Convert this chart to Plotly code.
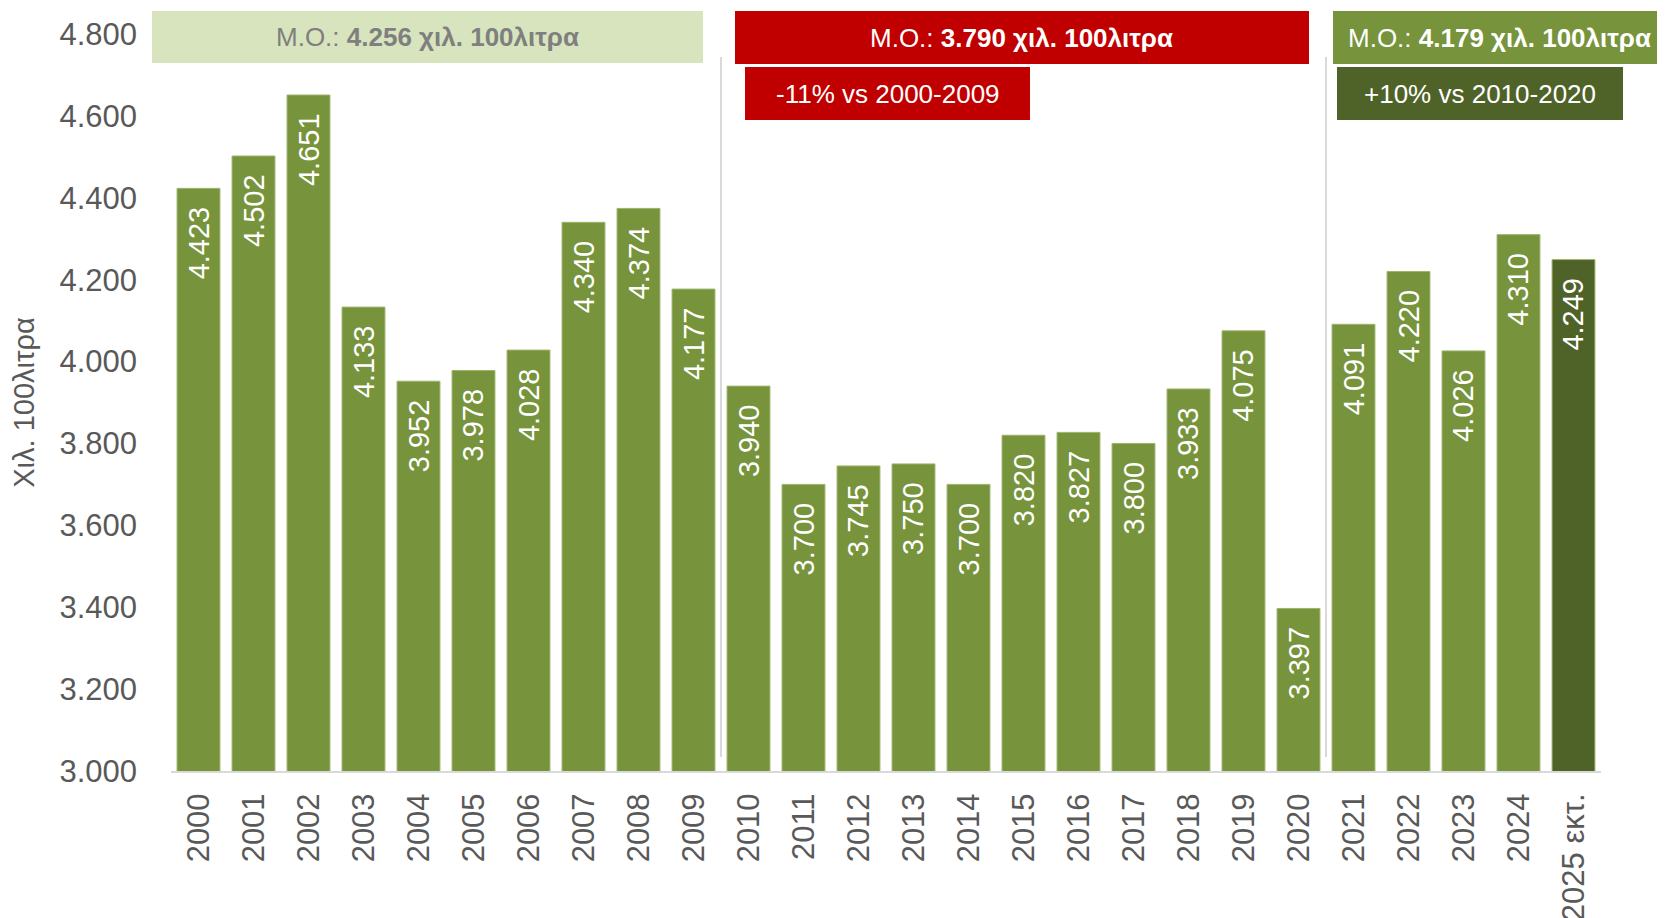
import plotly.graph_objects as go

categories = ["2000", "2001", "2002", "2003", "2004", "2005", "2006", "2007", "2008", "2009",
              "2010", "2011", "2012", "2013", "2014", "2015", "2016", "2017", "2018", "2019",
              "2020", "2021", "2022", "2023", "2024", "2025 εκτ."]
values = [4423, 4502, 4651, 4133, 3952, 3978, 4028, 4340, 4374, 4177,
          3940, 3700, 3745, 3750, 3700, 3820, 3827, 3800, 3933, 4075,
          3397, 4091, 4220, 4026, 4310, 4249]
y_ticks = [3000, 3200, 3400, 3600, 3800, 4000, 4200, 4400, 4600, 4800]
period_avgs = ["4.256", "3.790", "4.179"]
period_diffs = ["-11% vs 2000-2009", "+10% vs 2010-2020"]

GREEN = "#77933C"
DARK = "#4F6228"
LIGHT = "#D7E4BD"
RED = "#C00000"
GREY = "#595959"

bar_colors = [GREEN] * (len(values) - 1) + [DARK]
labels = [f"{v:,}".replace(",", ".") for v in values]

FONT = "Liberation Sans, Arial, sans-serif"
NARROW = "Liberation Sans Narrow, Liberation Sans, Arial, sans-serif"

fig = go.Figure()
fig.add_trace(go.Bar(
    x=categories, y=values,
    marker=dict(color=bar_colors, line=dict(color="#9DB46C", width=1)),
    hoverinfo="x+y",
))

annotations = []
for i, (v, t) in enumerate(zip(values, labels)):
    annotations.append(dict(
        x=i, y=v, xref="x", yref="y", text=t, showarrow=False,
        textangle=-90, yanchor="top", xanchor="center", yshift=-16,
        font=dict(family=FONT, size=29, color="white"),
    ))

# page offset (default body margin of the html page)
OFF = 8
PAGE_W, PAGE_H = 1665, 918
FIG_W, FIG_H = PAGE_W - OFF, PAGE_H - OFF
# plot area in page pixels
L, R, T, B = 171, 1601, 34, 771
W, H = R - L, B - T
def px(x):
    return (x - L) / W
def py(y):
    return (B - y) / H

boxes = [
    # (x0, x1, y0, y1, fill, text, text color)  -- page pixels
    (152, 703, 11, 63, LIGHT, f"Μ.Ο.: <b>{period_avgs[0]} χιλ. 100λιτρα</b>", "#7F7F7F"),
    (735, 1309, 11, 64, RED, f"Μ.Ο.: <b>{period_avgs[1]} χιλ. 100λιτρα</b>", "white"),
    (1333, 1670, 11, 64, GREEN, f"Μ.Ο.: <b>{period_avgs[2]} χιλ. 100λιτρα</b>", "white"),
    (745, 1030, 67, 120, RED, period_diffs[0], "white"),
    (1337, 1623, 67, 120, DARK, period_diffs[1], "white"),
]
shapes = []
for x0, x1, y0, y1, fill, text, tc in boxes:
    shapes.append(dict(type="rect", xref="paper", yref="paper",
                       x0=px(x0), x1=px(x1), y0=py(y1), y1=py(y0),
                       fillcolor=fill, line=dict(width=0), layer="above"))
    annotations.append(dict(
        x=px((x0 + min(x1, 1665)) / 2), y=py((y0 + y1) / 2), xref="paper", yref="paper",
        text=text, showarrow=False, xanchor="center", yanchor="middle",
        font=dict(family=NARROW, size=26, color=tc),
    ))

for xb in [9.5, 20.5]:
    shapes.append(dict(type="line", xref="x", yref="paper", x0=xb, x1=xb,
                       y0=py(757), y1=py(57), line=dict(color="#D9D9D9", width=2)))

fig.update_layout(
    width=FIG_W, height=FIG_H,
    margin=dict(l=L - OFF, r=PAGE_W - R, t=T - OFF, b=PAGE_H - B, autoexpand=False),
    paper_bgcolor="white", plot_bgcolor="white",
    separators=",.",
    bargap=0.22,
    showlegend=False,
    shapes=shapes,
    annotations=annotations,
    font=dict(family=FONT, color=GREY),
    xaxis=dict(
        type="category", tickangle=-90, showgrid=False, automargin=False,
        showline=True, linecolor="#D9D9D9", linewidth=2,
        ticks="", tickfont=dict(family=FONT, size=31, color=GREY),
        ticklabelstandoff=8, range=[-0.5, len(categories) - 0.5],
    ),
    yaxis=dict(
        range=[3000, 4800], tickvals=y_ticks, tickformat=",d", automargin=False,
        showgrid=False, zeroline=False, showline=False, ticks="",
        tickfont=dict(family=FONT, size=31, color=GREY),
        ticklabelstandoff=33,
        title=dict(text="Χιλ. 100λιτρα", font=dict(family=FONT, size=29, color=GREY),
                   standoff=22),
    ),
)

fig.write_html("out.html")
